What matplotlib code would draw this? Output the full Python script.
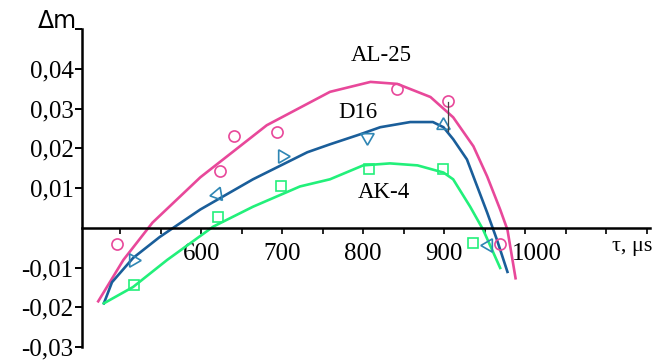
import numpy as np
import matplotlib
matplotlib.use("Agg")
import matplotlib.pyplot as plt
from matplotlib.transforms import ScaledTranslation

# fitted curves (tau in microseconds, mass change)
al25_t = [473, 504, 540, 599, 681, 759, 809, 842, 883, 911, 936, 953, 969, 978, 988]
al25_v = [-0.0185, -0.0081, 0.0013, 0.0127, 0.0258, 0.0342, 0.0367, 0.0362,
          0.0329, 0.0278, 0.0205, 0.0129, 0.0046, -0.0005, -0.0127]
d16_t = [480, 490, 516, 549, 599, 664, 731, 759, 796, 821, 858, 886, 899, 911,
         928, 936, 953, 965, 978]
d16_v = [-0.019, -0.0137, -0.0076, -0.0023, 0.0046, 0.0122, 0.019, 0.021, 0.0235,
         0.0253, 0.0266, 0.0266, 0.0253, 0.0223, 0.0172, 0.0129, 0.0038, -0.003, -0.0111]
ak4_t = [480, 516, 558, 615, 664, 722, 759, 800, 833, 867, 899, 911, 932, 948, 969]
ak4_v = [-0.019, -0.0149, -0.0081, 0.0003, 0.0053, 0.0104, 0.0122, 0.0157, 0.0162,
         0.0157, 0.0139, 0.0122, 0.0053, -0.0005, -0.0101]

# measured points
al25_pt_t = [496, 623, 640, 694, 842, 905, 969]
al25_pt_v = [-0.004, 0.0142, 0.023, 0.024, 0.035, 0.0319, -0.004]
d16_pt_t = [516, 620, 700, 805, 898, 954]
d16_pt_v = [-0.0082, 0.0084, 0.018, 0.0228, 0.0258, -0.0043]
d16_pt_rot = [150, -20, -90, 60, 0, 90]
ak4_pt_t = [517, 621, 698, 807, 898, 936]
ak4_pt_v = [-0.0144, 0.0028, 0.0104, 0.0147, 0.0147, -0.0038]

# curve labels
names = ["AL-25", "D16", "AK-4"]
name_t = [822, 794, 826]
name_v = [0.0433, 0.0290, 0.0088]

pink = "#e8489a"
blue = "#1a5e9a"
tri_blue = "#2f86b4"
green = "#22f07a"

fig = plt.figure(figsize=(6.54, 3.63), dpi=100)
ax = fig.add_axes([0.1254, 0.044, 0.8686, 0.876])

ax.plot(al25_t, al25_v, color=pink, lw=1.9)
ax.plot(d16_t, d16_v, color=blue, lw=1.9)
ax.plot(ak4_t, ak4_v, color=green, lw=1.9)

ax.plot(al25_pt_t, al25_pt_v, ls="none", marker="o", ms=8, mfc="none",
        mec=pink, mew=1.2)
for t, v, r in zip(d16_pt_t, d16_pt_v, d16_pt_rot):
    ax.plot(t, v, ls="none", marker=(3, 0, r), ms=11, mfc="none",
            mec=tri_blue, mew=1.2)
ax.plot(ak4_pt_t, ak4_pt_v, ls="none", marker="s", ms=7.5, mfc="none",
        mec=green, mew=1.2)

# error bar at 900 us
ax.plot([905, 905], [0.0316, 0.0243], color="#444444", lw=0.9)

ax.set_xlim(453, 1154)
ax.set_ylim(-0.03, 0.05)

for s in ["top", "right"]:
    ax.spines[s].set_visible(False)
ax.spines["bottom"].set_position(("data", 0))
ax.spines["left"].set_linewidth(1.8)
ax.spines["bottom"].set_linewidth(1.8)

serif = "Liberation Serif"
ax.set_yticks([-0.03, -0.02, -0.01, 0.01, 0.02, 0.03, 0.04, 0.05])
ax.set_yticklabels(["-0,03", "-0,02", "-0,01", "0,01", "0,02", "0,03", "0,04", ""],
                   fontfamily=serif, fontsize=18)
ax.set_xticks([600, 700, 800, 900, 1000])
ax.set_xticklabels(["600", "700", "800", "900", "1000"], fontfamily=serif, fontsize=18)
ax.set_xticks(np.arange(500, 1151, 50), minor=True)
ax.tick_params(axis="y", direction="out", length=5, width=1.4, pad=1)
ax.tick_params(axis="x", which="both", direction="out", length=4, width=1.2, pad=7)
ax.tick_params(axis="x", which="minor", length=4)

for lbl in ax.get_xticklabels():
    if lbl.get_text() == "1000":
        lbl.set_transform(lbl.get_transform() + ScaledTranslation(0.12, 0, fig.dpi_scale_trans))

for n, t, v in zip(names, name_t, name_v):
    ax.text(t, v, n, fontfamily=serif, fontsize=16.5, ha="center", va="center")

fig.text(632 / 654, 1 - 246 / 363, "τ, μs", fontfamily=serif, fontsize=16,
         ha="center", va="center")
fig.text(57 / 654, 1 - 21 / 363, "Δm", fontfamily="DejaVu Sans", fontsize=17,
         ha="center", va="center")

fig.savefig("out.png", dpi=100)
